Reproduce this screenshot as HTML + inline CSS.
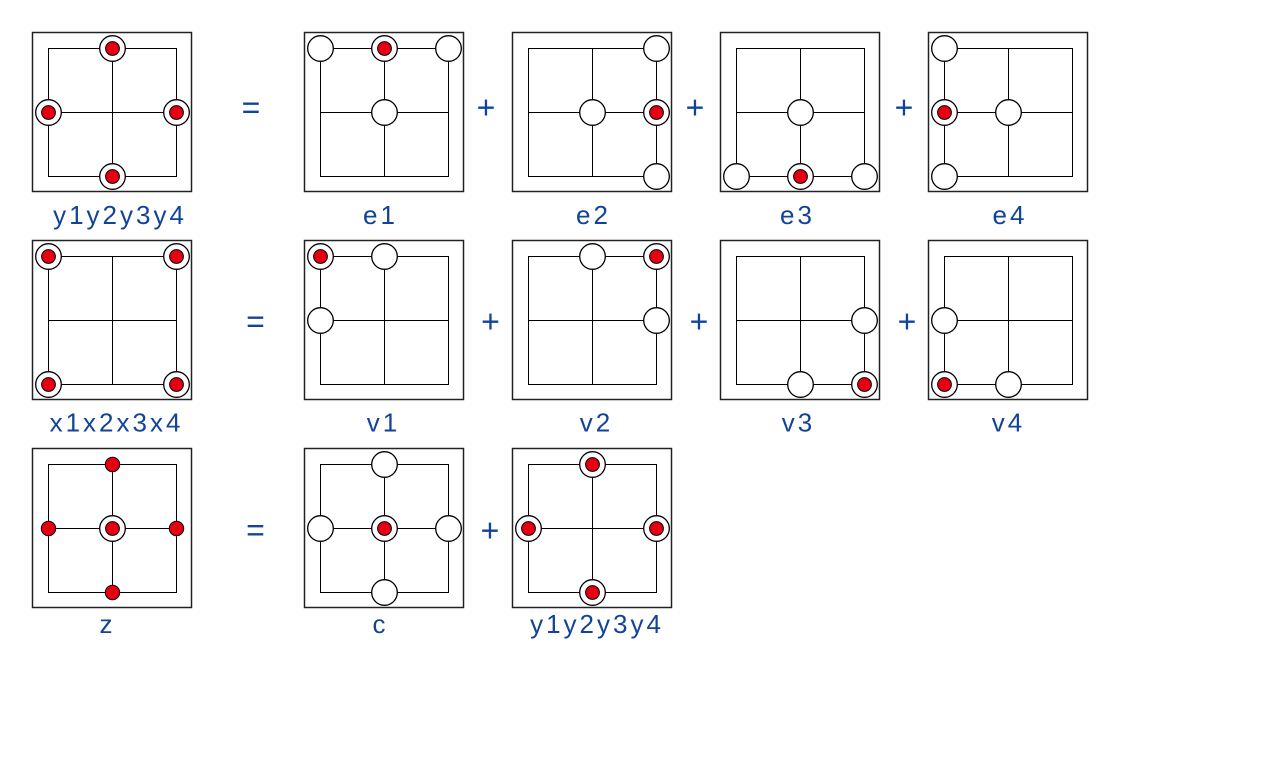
<!DOCTYPE html>
<html><head><meta charset="utf-8"><style>
html,body{margin:0;padding:0;background:#fff;width:1280px;height:768px;overflow:hidden}
svg{display:block}
.l{font-family:"Liberation Sans",sans-serif;font-size:26px;fill:#12439a;letter-spacing:3px;text-anchor:middle}
.op{font-family:"Liberation Sans",sans-serif;font-size:32px;fill:#12439a;text-anchor:middle}
</style></head><body>
<svg width="1280" height="768" viewBox="0 0 1280 768" xmlns="http://www.w3.org/2000/svg">
<defs>
<g id="box">
<rect x="0.5" y="0.5" width="159" height="159" fill="#fff" stroke="#222" stroke-width="1.5"/>
<rect x="16.5" y="16.5" width="128" height="128" fill="none" stroke="#000" stroke-width="1"/>
<line x1="80.5" y1="16.5" x2="80.5" y2="144.5" stroke="#000" stroke-width="1"/>
<line x1="16.5" y1="80.5" x2="144.5" y2="80.5" stroke="#000" stroke-width="1"/>
</g>
<g id="o"><circle cx="0.5" cy="0.5" r="12.8" fill="#fff" stroke="#000" stroke-width="1.3"/></g>
<g id="t"><circle cx="0.5" cy="0.5" r="12.8" fill="#fff" stroke="#000" stroke-width="1.3"/><circle cx="0.5" cy="0.5" r="6.9" fill="#e60012" stroke="#000" stroke-width="1"/></g>
<g id="r"><circle cx="0.5" cy="0.5" r="7.2" fill="#e60012" stroke="#000" stroke-width="1"/></g>
</defs>

<!-- boxes -->
<use href="#box" x="32" y="32"/><use href="#box" x="304" y="32"/><use href="#box" x="512" y="32"/><use href="#box" x="720" y="32"/><use href="#box" x="928" y="32"/>
<use href="#box" x="32" y="240"/><use href="#box" x="304" y="240"/><use href="#box" x="512" y="240"/><use href="#box" x="720" y="240"/><use href="#box" x="928" y="240"/>
<use href="#box" x="32" y="448"/><use href="#box" x="304" y="448"/><use href="#box" x="512" y="448"/>

<!-- row 1 -->
<use href="#t" x="112" y="48"/><use href="#t" x="48" y="112"/><use href="#t" x="176" y="112"/><use href="#t" x="112" y="176"/>
<use href="#o" x="320" y="48"/><use href="#o" x="448" y="48"/><use href="#o" x="384" y="112"/><use href="#t" x="384" y="48"/>
<use href="#o" x="656" y="48"/><use href="#o" x="592" y="112"/><use href="#o" x="656" y="176"/><use href="#t" x="656" y="112"/>
<use href="#o" x="800" y="112"/><use href="#o" x="736" y="176"/><use href="#o" x="864" y="176"/><use href="#t" x="800" y="176"/>
<use href="#o" x="944" y="48"/><use href="#o" x="1008" y="112"/><use href="#o" x="944" y="176"/><use href="#t" x="944" y="112"/>

<!-- row 2 -->
<use href="#t" x="48" y="256"/><use href="#t" x="176" y="256"/><use href="#t" x="48" y="384"/><use href="#t" x="176" y="384"/>
<use href="#t" x="320" y="256"/><use href="#o" x="384" y="256"/><use href="#o" x="320" y="320"/>
<use href="#t" x="656" y="256"/><use href="#o" x="592" y="256"/><use href="#o" x="656" y="320"/>
<use href="#t" x="864" y="384"/><use href="#o" x="864" y="320"/><use href="#o" x="800" y="384"/>
<use href="#t" x="944" y="384"/><use href="#o" x="944" y="320"/><use href="#o" x="1008" y="384"/>

<!-- row 3 -->
<use href="#r" x="112" y="464"/><use href="#r" x="48" y="528"/><use href="#r" x="176" y="528"/><use href="#r" x="112" y="592"/><use href="#t" x="112" y="528"/>
<use href="#o" x="384" y="464"/><use href="#o" x="320" y="528"/><use href="#o" x="448" y="528"/><use href="#o" x="384" y="592"/><use href="#t" x="384" y="528"/>
<use href="#t" x="592" y="464"/><use href="#t" x="528" y="528"/><use href="#t" x="656" y="528"/><use href="#t" x="592" y="592"/>

<!-- operators -->
<text class="op" x="251" y="118.3">=</text>
<text class="op" x="486" y="118.3">+</text>
<text class="op" x="695" y="118.3">+</text>
<text class="op" x="904" y="118.3">+</text>
<text class="op" x="255.5" y="332.3">=</text>
<text class="op" x="490.5" y="332.3">+</text>
<text class="op" x="699" y="332.3">+</text>
<text class="op" x="907" y="332.3">+</text>
<text class="op" x="255.5" y="540.8">=</text>
<text class="op" x="490" y="541.3">+</text>

<!-- labels -->
<text class="l" x="120" y="224">y1y2y3y4</text>
<text class="l" x="380.5" y="224">e1</text>
<text class="l" x="593.5" y="224">e2</text>
<text class="l" x="797.5" y="224">e3</text>
<text class="l" x="1010" y="224">e4</text>
<text class="l" x="116.5" y="431.5">x1x2x3x4</text>
<text class="l" x="383.5" y="431.5">v1</text>
<text class="l" x="596.5" y="431.5">v2</text>
<text class="l" x="798.5" y="431.5">v3</text>
<text class="l" x="1008.5" y="431.5">v4</text>
<text class="l" x="107.5" y="633">z</text>
<text class="l" x="380.5" y="633">c</text>
<text class="l" x="597" y="633">y1y2y3y4</text>
</svg>
</body></html>
